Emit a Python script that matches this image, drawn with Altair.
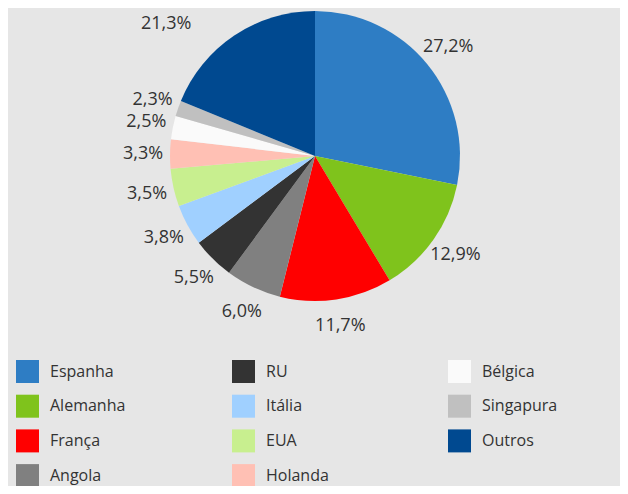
import altair as alt
import pandas as pd

# Slices in drawing order (clockwise from 12 o'clock)
countries = ["Espanha", "Alemanha", "França", "Angola", "RU", "Itália",
             "EUA", "Holanda", "Bélgica", "Singapura", "Outros"]
# printed percentage labels
pct_labels = ["27,2%", "12,9%", "11,7%", "6,0%", "5,5%", "3,8%",
              "3,5%", "3,3%", "2,5%", "2,3%", "21,3%"]
# slice sizes as drawn in the picture (share of the circle, %)
slice_share = [28.2, 13.2, 12.5, 6.2, 4.7, 4.6, 4.2, 3.25, 2.6, 1.75, 18.8]
colors = ["#2e7dc4", "#7fc31c", "#ff0000", "#808080", "#333333", "#a0d0ff",
          "#c8ef8f", "#ffc0b4", "#fafafa", "#c0c0c0", "#004990"]

df = pd.DataFrame({
    "pais": countries,
    "share": slice_share,
    "label": pct_labels,
    "idx": list(range(len(countries))),
})

CX, CY = 307, 148
R = 145

base = alt.Chart(df).encode(
    theta=alt.Theta("share:Q", stack=True),
    order=alt.Order("idx:Q"),
)

pie = base.mark_arc(radius=R, stroke=None).encode(
    x=alt.value(CX),
    y=alt.value(CY),
    color=alt.Color(
        "pais:N",
        scale=alt.Scale(domain=countries, range=colors),
        legend=alt.Legend(
            orient="none",
            legendX=8,
            legendY=352,
            title=None,
            columns=3,
            gridAlign="all",
            columnPadding=106,
            rowPadding=11.7,
            symbolType="square",
            symbolSize=529,
            symbolStrokeWidth=0,
            symbolOpacity=1,
            labelFont="Open Sans",
            labelFontSize=16,
            labelColor="#333333",
            labelOffset=11,
            padding=0,
        ),
    ),
)

text_style = dict(radius=172, font="Open Sans", fontSize=18, color="#333333",
                  align="center", baseline="middle")

labels = base.mark_text(**text_style).encode(
    x=alt.value(CX),
    y=alt.value(CY),
    text="label:N",
    opacity=alt.condition("datum.pais == 'Outros'", alt.value(0), alt.value(1)),
)

# the large "Outros" label is nudged towards the left like in the original
label_outros = base.mark_text(dx=-53, dy=11, **text_style).encode(
    x=alt.value(CX),
    y=alt.value(CY),
    text="label:N",
    opacity=alt.condition("datum.pais == 'Outros'", alt.value(1), alt.value(0)),
)

chart = alt.layer(pie, labels, label_outros).properties(
    width=612,
    height=478,
    autosize=alt.AutoSizeParams(type="none"),
    padding=0,
    background="#e6e6e6",
).configure_view(stroke=None)

chart.save("out.html", embed_options={"renderer": "svg", "actions": False})
